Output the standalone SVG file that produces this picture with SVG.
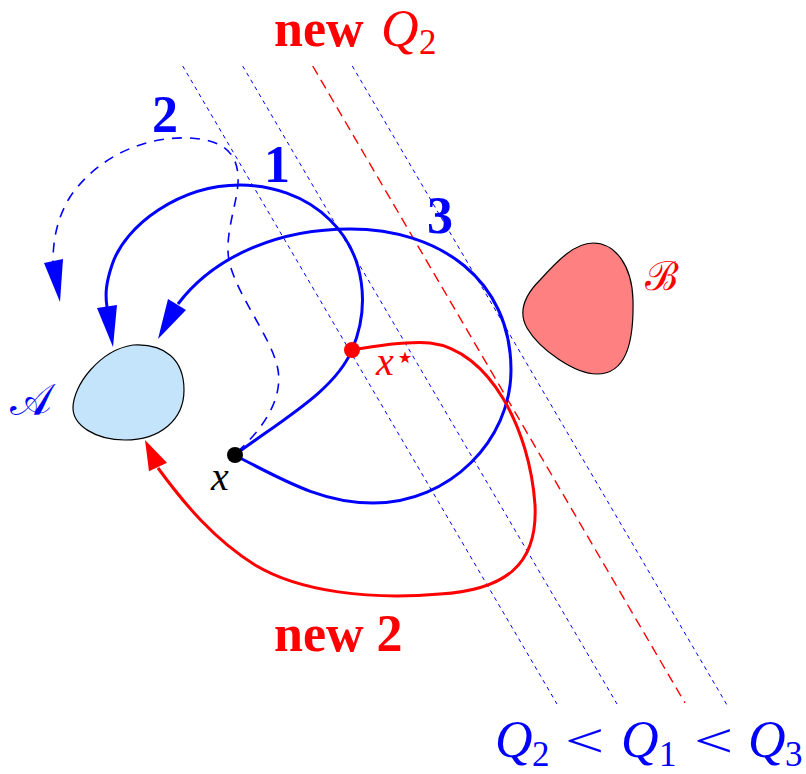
<svg xmlns="http://www.w3.org/2000/svg" width="806" height="774" viewBox="0 0 806 774">
<style>
.lvl{fill:none;stroke:#0000ff;stroke-width:1;stroke-dasharray:4 4}
.lvlr{fill:none;stroke:#ff0000;stroke-width:1.4;stroke-dasharray:10 6}
.cb{fill:none;stroke:#0000ff;stroke-width:3}
.cbd{fill:none;stroke:#0000ff;stroke-width:1.6;stroke-dasharray:10 8}
.cr{fill:none;stroke:#ff0000;stroke-width:3}
.hb{fill:#0000ff;stroke:none}
.hr{fill:#ff0000;stroke:none}
.t{font-family:"Liberation Serif","Times New Roman",serif}
.b{font-weight:bold}
.i{font-style:italic}
</style>
<rect width="806" height="774" fill="#ffffff"/>
<g id="levels">
<line class="lvl" x1="182.7" y1="66" x2="557" y2="704"/>
<line class="lvl" x1="242.7" y1="66" x2="617" y2="704"/>
<line class="lvlr" x1="312.7" y1="66" x2="685" y2="703"/>
<line class="lvl" x1="352.3" y1="66" x2="727" y2="705"/>
</g>
<g id="nodeA">
<path d="M 133,345 C 165,343 184,360 184,390 C 184,420 160,440 125,440 C 95,440 73,425 73,408 C 73,385 100,350 133,345 Z" fill="#c4e4fc" stroke="#000" stroke-width="1.2"/>
</g>
<g id="nodeB">
<path d="M 593,243 C 615,243 632,265 633,300 C 634,345 625,374 597,374 C 575,374 540,350 527,328 C 518,312 525,295 540,280 C 558,260 575,243 593,243 Z" fill="#ff8080" stroke="#000" stroke-width="1.2"/>
</g>
<g id="connectors">
<path class="cbd" d="M 237,452 C 262,430 283,400 278,370 C 273,340 240,300 230,265 C 222,235 240,200 238,175 C 236,150 220,140 190,138 C 140,136 95,160 70,197 C 57,218 53,240 53,262"/>
<polygon class="hb" points="60,302 44,263 63,259"/>
<path class="cb" d="M 236,454 C 285,418 335,390 352,350 C 370,308 366,255 330,220 C 305,195 270,185 240,185 C 180,185 125,225 112,265 C 106,283 105,294 107,307"/>
<polygon class="hb" points="113,347 97,308 117,305"/>
<path class="cb" d="M 236,456 C 280,478 320,503 373,503 C 450,503 511,440 511,370 C 511,280 440,229 350,229 C 280,229 215,255 178,304"/>
<polygon class="hb" points="158,339 168,299 186,310"/>
<path class="cr" d="M 352,350 C 375,346 405,341 430,343 C 490,350 530,430 535,505 C 538,565 505,590 440,594 C 370,600 300,592 255,565 C 215,540 185,505 158,468"/>
<polygon class="hr" points="145,440 167,462.7 149,471.3"/>
</g>
<g id="nodeX">
<circle cx="235" cy="455" r="8" fill="#000"/>
<text class="t i" x="211" y="490" font-size="40" fill="#000">x</text>
</g>
<g id="nodeXstar">
<circle cx="352" cy="350" r="8" fill="#ff0000"/>
<text class="t i" x="376" y="375" font-size="40" fill="#ff0000">x</text>
<text x="395" y="368" font-size="32" fill="#ff0000" font-family="DejaVu Sans,sans-serif">⋆</text>
</g>
<g id="labels">
<text class="t" x="10" y="415" font-size="44" fill="#0000ff">𝒜</text>
<text class="t" x="645" y="290" font-size="40" fill="#ff0000">ℬ</text>
<text class="t b" x="152" y="132" font-size="52" fill="#0000ff">2</text>
<text class="t b" x="264" y="182" font-size="52" fill="#0000ff">1</text>
<text class="t b" x="427" y="233" font-size="52" fill="#0000ff">3</text>
<text class="t b" x="274" y="46" font-size="52" fill="#ff0000">new</text>
<text class="t i" x="381" y="46" font-size="52" fill="#ff0000">Q</text>
<text class="t" x="419" y="54" font-size="35" fill="#ff0000">2</text>
<text class="t b" x="274" y="651" font-size="52" fill="#ff0000">new 2</text>
<g fill="#0000ff">
<text class="t i" x="495" y="757" font-size="52">Q</text>
<text class="t" x="532" y="766" font-size="35">2</text>
<text class="t" x="0" y="0" font-size="48" transform="translate(565,757) scale(1.45,1)">&lt;</text>
<text class="t i" x="621" y="757" font-size="52">Q</text>
<text class="t" x="659" y="766" font-size="35">1</text>
<text class="t" x="0" y="0" font-size="48" transform="translate(694,757) scale(1.45,1)">&lt;</text>
<text class="t i" x="748" y="757" font-size="52">Q</text>
<text class="t" x="785" y="766" font-size="35">3</text>
</g>
</g>
</svg>
